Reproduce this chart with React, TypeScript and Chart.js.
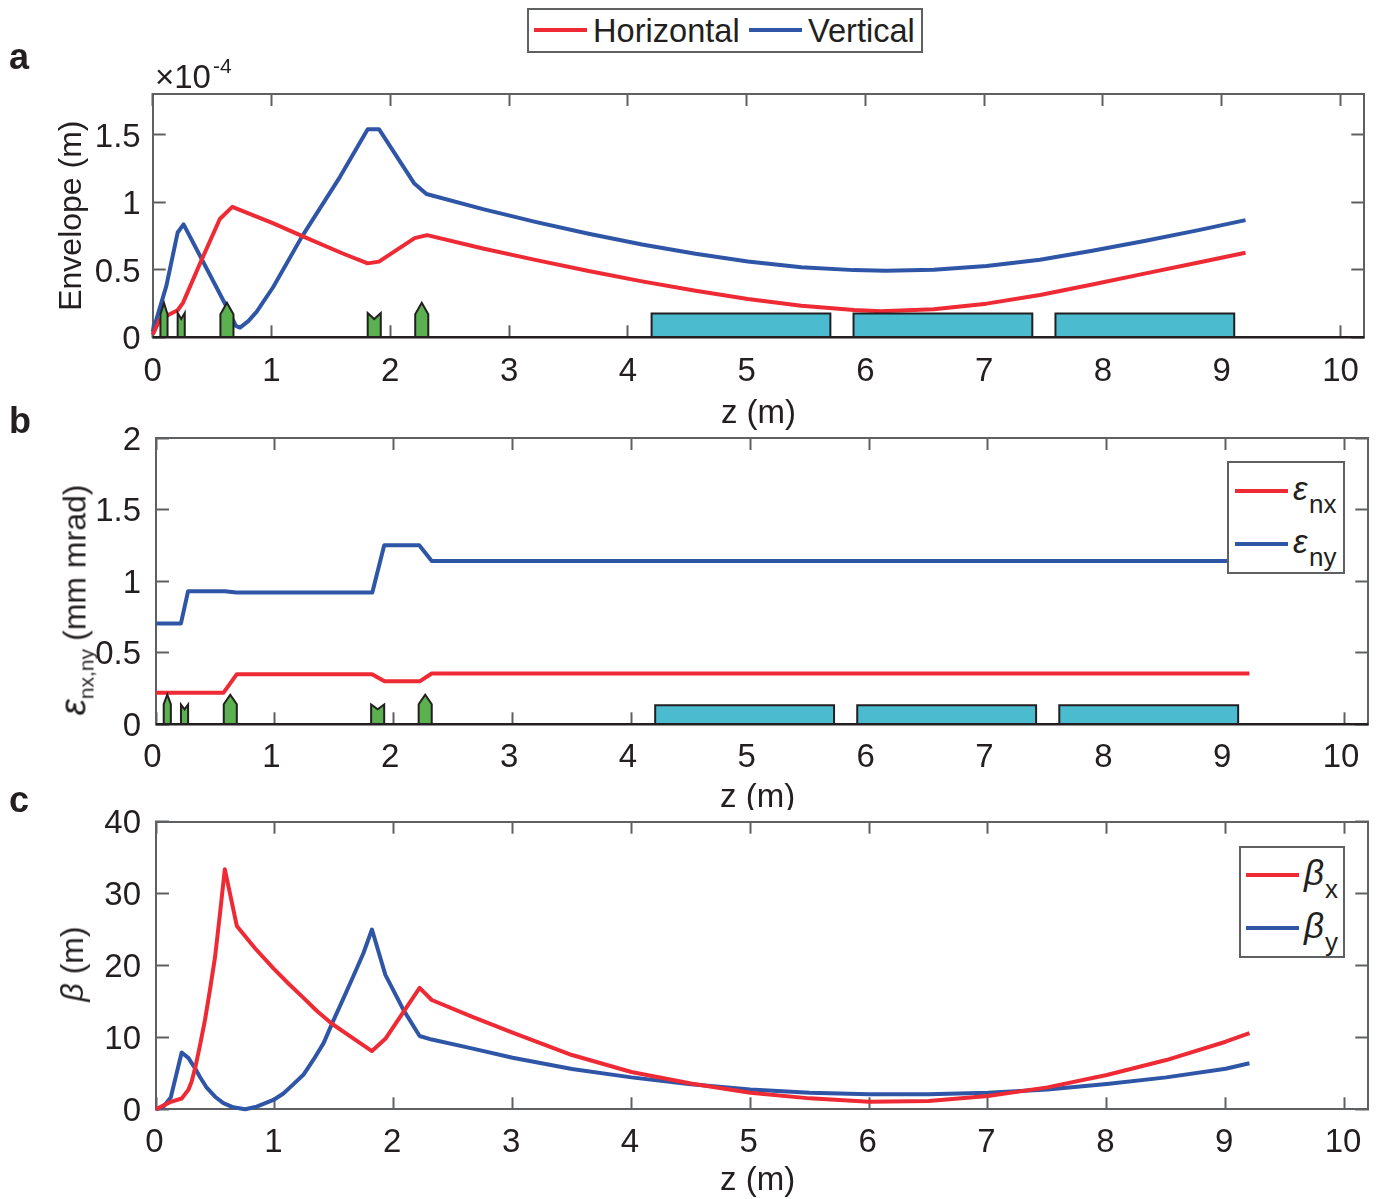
import React, { useEffect, useRef } from "react";
import { Chart, registerables } from "chart.js";

Chart.register(...registerables);

const RED = "#EE2A35";
const BLUE = "#2F56A6";
const INK = "#231F20";
const AXIS = "#5F6062";
const GREEN = "#5BB050";
const TEAL = "#4BBBD0";
const FONT = "'Liberation Sans', Arial, sans-serif";
const FS = 33;

type P = [number, number];

const envelopeX: P[] = [[0,0.02],[0.06,0.13],[0.13,0.165],[0.21,0.2],[0.255,0.255],[0.4,0.55],[0.565,0.875],[0.67,0.965],[1.016,0.843],[1.255,0.75],[1.6,0.62],[1.81,0.547],[1.905,0.56],[2.205,0.734],[2.31,0.756],[2.78,0.657],[3.23,0.571],[3.67,0.49],[4.12,0.414],[4.57,0.345],[5.01,0.283],[5.46,0.234],[5.905,0.202],[6.13,0.192],[6.575,0.207],[7.02,0.249],[7.47,0.313],[7.91,0.391],[8.36,0.473],[8.805,0.554],[9.2,0.625]];
const envelopeY: P[] = [[0,0.04],[0.115,0.38],[0.21,0.775],[0.26,0.835],[0.62,0.23],[0.7,0.085],[0.735,0.072],[0.805,0.12],[0.876,0.19],[1.016,0.374],[1.255,0.743],[1.577,1.187],[1.81,1.54],[1.905,1.54],[2.2,1.14],[2.305,1.06],[2.78,0.948],[3.23,0.852],[3.67,0.766],[4.12,0.687],[4.57,0.618],[5.01,0.561],[5.46,0.519],[5.905,0.497],[6.17,0.492],[6.575,0.5],[7.02,0.527],[7.47,0.574],[7.91,0.64],[8.36,0.714],[8.805,0.793],[9.2,0.867]];

const emittanceX: P[] = [[0,0.22],[0.25,0.22],[0.567,0.22],[0.68,0.35],[1.817,0.35],[1.923,0.3],[2.218,0.3],[2.32,0.355],[9.2,0.355]];
const emittanceY: P[] = [[0,0.705],[0.21,0.705],[0.27,0.93],[0.58,0.93],[0.675,0.92],[1.82,0.92],[1.92,1.25],[2.215,1.25],[2.32,1.14],[9.2,1.14]];

const betaX: P[] = [[0,0],[0.118,1],[0.216,1.5],[0.272,2.7],[0.3,3.85],[0.329,5.7],[0.37,8.9],[0.412,12.4],[0.454,16.6],[0.497,21.2],[0.539,27.3],[0.579,33.4],[0.68,25.5],[0.833,22.4],[0.988,19.6],[1.114,17.5],[1.241,15.5],[1.352,13.7],[1.48,11.9],[1.647,10],[1.817,8.1],[1.93,9.8],[2.218,16.9],[2.32,15.2],[2.657,12.88],[3,10.66],[3.5,7.55],[4,5.19],[4.5,3.6],[5,2.31],[5.5,1.52],[6,1.06],[6.5,1.15],[7,1.85],[7.5,3.05],[8,4.77],[8.5,6.85],[9,9.4],[9.2,10.6]];
const betaY: P[] = [[0,0],[0.062,0.35],[0.124,1.65],[0.216,7.9],[0.272,7.15],[0.329,5.7],[0.37,4.5],[0.427,3],[0.497,1.75],[0.567,0.85],[0.65,0.28],[0.75,0],[0.847,0.36],[0.988,1.3],[1.072,2.2],[1.157,3.5],[1.24,4.8],[1.325,6.9],[1.41,9.2],[1.494,12.4],[1.576,15.4],[1.66,18.5],[1.745,21.7],[1.817,25],[1.93,18.7],[2.083,13.8],[2.218,10.2],[2.32,9.7],[2.657,8.48],[3,7.18],[3.5,5.6],[4,4.44],[4.5,3.47],[5,2.77],[5.5,2.31],[6,2.08],[6.5,2.08],[7,2.31],[7.5,2.77],[8,3.52],[8.5,4.44],[9,5.65],[9.2,6.4]];

const focusQuads: P[] = [[0.065,0.125],[0.57,0.68],[2.21,2.32]];
const defocusQuads: P[] = [[0.21,0.27],[1.81,1.92]];
const dipoles: P[] = [[4.2,5.705],[5.9,7.405],[7.6,9.105]];

const xTicks = [0,1,2,3,4,5,6,7,8,9,10];
const panelAYTicks = [0,0.5,1,1.5];
const panelBYTicks = [0,0.5,1,1.5,2];
const panelCYTicks = [0,10,20,30,40];

type Heights = { focShoulder: number; focTip: number; defShoulder: number; defNotch: number; dipole: number };

const heightsA: Heights = { focShoulder: 0.17, focTip: 0.255, defShoulder: 0.18, defNotch: 0.135, dipole: 0.177 };
const heightsB: Heights = { focShoulder: 0.14, focTip: 0.207, defShoulder: 0.138, defNotch: 0.105, dipole: 0.133 };

function toXY(p: P[]) {
  return p.map(([x, y]) => ({ x, y }));
}

function beamline(h: Heights) {
  const shape = (pts: P[], color: string) => ({
    type: "scatter",
    data: toXY(pts),
    showLine: true,
    fill: "origin",
    backgroundColor: color,
    borderColor: INK,
    borderWidth: 2,
    borderJoinStyle: "miter",
    pointRadius: 0,
    tension: 0,
    order: 1,
    clip: false,
  });
  const out: any[] = [];
  focusQuads.forEach(([a, b]) =>
    out.push(shape([[a,0],[a,h.focShoulder],[(a+b)/2,h.focTip],[b,h.focShoulder],[b,0]], GREEN)));
  defocusQuads.forEach(([a, b]) =>
    out.push(shape([[a,0],[a,h.defShoulder],[(a+b)/2,h.defNotch],[b,h.defShoulder],[b,0]], GREEN)));
  dipoles.forEach(([a, b]) =>
    out.push(shape([[a,0],[a,h.dipole],[b,h.dipole],[b,0]], TEAL)));
  return out;
}

function curve(label: string, pts: P[], color: string) {
  return {
    type: "scatter",
    label,
    data: toXY(pts),
    showLine: true,
    borderColor: color,
    backgroundColor: color,
    borderWidth: 4,
    borderJoinStyle: "round",
    pointRadius: 0,
    tension: 0,
    fill: false,
    order: 2,
    clip: false,
  };
}

function baselineDs(xMax: number) {
  return {
    type: "scatter",
    data: toXY([[0,0],[xMax,0]]),
    showLine: true,
    borderColor: INK,
    borderWidth: 2.4,
    pointRadius: 0,
    fill: false,
    order: 0,
    clip: false,
  };
}

type PanelCfg = {
  canvasTop: number;
  canvasH: number;
  left: number;
  right: number;
  top: number;
  bottom: number;
  yMax: number;
  yStep: number;
  yTicks: number[];
  xLabelShift: number;
  xPad: number;
  yPad: number;
  yShift: number;
  xTitleY: number;
  xTitle: string;
  yTitle?: string;
  datasets: any[];
};

function noPad(s: any) {
  s.paddingTop = 0;
  s.paddingBottom = 0;
  s.paddingLeft = 0;
  s.paddingRight = 0;
}

function buildConfig(c: PanelCfg): any {
  const W = 1381;
  const tickFont = { family: FONT, size: FS };
  const commonGrid = (len: number) => ({
    drawOnChartArea: false,
    drawTicks: true,
    tickLength: -len,
    tickColor: AXIS,
    tickWidth: 2,
  });
  const border = { color: AXIS, width: 2 };
  return {
    type: "scatter",
    data: { datasets: c.datasets },
    options: {
      animation: false,
      responsive: false,
      maintainAspectRatio: false,
      layout: { padding: { left: 0, right: W - c.right, top: c.top - c.canvasTop, bottom: 0 } },
      plugins: { legend: { display: false }, tooltip: { enabled: false }, title: { display: false } },
      scales: {
        x: {
          type: "linear",
          position: "bottom",
          min: 0,
          max: 10.2,
          border,
          grid: commonGrid(12),
          afterFit: (s: any) => { s.height = c.canvasTop + c.canvasH - c.bottom; noPad(s); },
          afterBuildTicks: (s: any) => { s.ticks = xTicks.map((value) => ({ value })); },
          ticks: {
            stepSize: 1,
            includeBounds: false,
            autoSkip: false,
            maxRotation: 0,
            minRotation: 0,
            color: INK,
            font: tickFont,
            padding: c.xPad,
            labelOffset: c.xLabelShift,
            callback: (v: any) => String(v),
          },
          title: {
            display: true,
            text: c.xTitle,
            color: INK,
            font: { family: FONT, size: FS },
            padding: { top: 0, bottom: c.canvasTop + c.canvasH - c.xTitleY - FS * 0.6 },
          },
        },
        x2: {
          type: "linear",
          position: "top",
          min: 0,
          max: 10.2,
          border,
          grid: commonGrid(12),
          afterFit: (s: any) => { s.height = 0; noPad(s); },
          afterBuildTicks: (s: any) => { s.ticks = xTicks.map((value) => ({ value })); },
          ticks: { display: false, autoSkip: false },
        },
        y: {
          type: "linear",
          position: "left",
          min: 0,
          max: c.yMax,
          border,
          grid: commonGrid(13),
          afterFit: (s: any) => { s.width = c.left; noPad(s); },
          afterBuildTicks: (s: any) => { s.ticks = c.yTicks.map((value) => ({ value })); },
          ticks: {
            stepSize: c.yStep,
            includeBounds: false,
            autoSkip: false,
            color: INK,
            font: tickFont,
            padding: c.yPad,
            labelOffset: c.yShift,
            callback: (v: any) => String(v),
          },
          title: c.yTitle
            ? {
                display: true,
                text: c.yTitle,
                color: INK,
                font: { family: FONT, size: 32 },
                padding: { top: 53, bottom: 0 },
              }
            : { display: false },
        },
        y2: {
          type: "linear",
          position: "right",
          min: 0,
          max: c.yMax,
          border,
          grid: commonGrid(13),
          afterFit: (s: any) => { s.width = 0; noPad(s); },
          afterBuildTicks: (s: any) => { s.ticks = c.yTicks.map((value) => ({ value })); },
          ticks: { display: false, autoSkip: false },
        },
      },
    },
  };
}

const panels: PanelCfg[] = [
  {
    canvasTop: 60, canvasH: 380, left: 152.7, right: 1364.3, top: 94, bottom: 337.3,
    yMax: 1.8, yStep: 0.5, yTicks: panelAYTicks, xLabelShift: 0, xPad: 26.5, yPad: 25, yShift: 3, xTitleY: 413.5,
    xTitle: "z (m)", yTitle: "Envelope (m)",
    datasets: [curve("Horizontal", envelopeX, RED), curve("Vertical", envelopeY, BLUE), ...beamline(heightsA), baselineDs(10.2)],
  },
  {
    canvasTop: 415, canvasH: 395, left: 156, right: 1368.3, top: 438, bottom: 724.3,
    yMax: 2, yStep: 0.5, yTicks: panelBYTicks, xLabelShift: -3.5, xPad: 25.5, yPad: 28, yShift: 2.5, xTitleY: 797.5,
    xTitle: "z (m) ",
    datasets: [curve("εnx", emittanceX, RED), curve("εny", emittanceY, BLUE), ...beamline(heightsB), baselineDs(10.2)],
  },
  {
    canvasTop: 795, canvasH: 404, left: 156, right: 1368.3, top: 821.7, bottom: 1109.3,
    yMax: 40, yStep: 10, yTicks: panelCYTicks, xLabelShift: -1.5, xPad: 25.5, yPad: 28, yShift: 2.5, xTitleY: 1181,
    xTitle: "z (m) ",
    datasets: [curve("βx", betaX, RED), curve("βy", betaY, BLUE)],
  },
];

function Panel({ cfg }: { cfg: PanelCfg }) {
  const ref = useRef<HTMLCanvasElement | null>(null);
  useEffect(() => {
    const chart = new Chart(ref.current as HTMLCanvasElement, buildConfig(cfg));
    return () => chart.destroy();
  }, [cfg]);
  return (
    <canvas
      ref={ref}
      width={1381}
      height={cfg.canvasH}
      style={{ position: "absolute", left: 0, top: cfg.canvasTop, width: 1381, height: cfg.canvasH, display: "block" }}
    />
  );
}

const textBase: React.CSSProperties = {
  position: "absolute",
  fontFamily: FONT,
  color: INK,
  whiteSpace: "nowrap",
  lineHeight: 1,
};

function Label({ x, y, size = FS, bold, italic, rotate, children }: any) {
  return (
    <span
      style={{
        ...textBase,
        left: x,
        top: y,
        fontSize: size,
        fontWeight: bold ? 700 : 400,
        fontStyle: italic ? "italic" : "normal",
        transform: rotate ? "translate(-50%,-50%) rotate(-90deg)" : undefined,
      }}
    >
      {children}
    </span>
  );
}

function Swatch({ x, y, color }: { x: number; y: number; color: string }) {
  return <div style={{ position: "absolute", left: x, top: y - 2, width: 53, height: 4, background: color }} />;
}

function Box({ l, t, r, b }: { l: number; t: number; r: number; b: number }) {
  return (
    <div
      style={{
        position: "absolute",
        left: l,
        top: t,
        width: r - l,
        height: b - t,
        boxSizing: "border-box",
        border: `2px solid ${AXIS}`,
        background: "#fff",
      }}
    />
  );
}

export default function App() {
  useEffect(() => {
    document.body.style.margin = "0";
    document.body.style.background = "#fff";
  }, []);
  return (
    <div style={{ position: "absolute", left: 0, top: 0, width: 1381, height: 1199, overflow: "hidden", background: "#fff" }}>
      {panels.map((p, i) => (
        <Panel key={i} cfg={p} />
      ))}

      <Label x={9} y={39} size={36} bold>a</Label>
      <Label x={9} y={403} size={36} bold>b</Label>
      <Label x={9} y={782} size={36} bold>c</Label>

      <Label x={155} y={60} size={33}>×10</Label>
      <Label x={213} y={55} size={21}>-4</Label>

      <Box l={527} t={8} r={923} b={53} />
      <Swatch x={534} y={30} color={RED} />
      <Label x={593} y={15} size={32.6}>Horizontal</Label>
      <Swatch x={749} y={30} color={BLUE} />
      <Label x={808} y={15} size={32.6}>Vertical</Label>

      <Box l={1227} t={461} r={1344.5} b={573.5} />
      <Swatch x={1235} y={491} color={RED} />
      <Label x={1293} y={472} size={33} italic>ε</Label>
      <Label x={1309} y={491} size={26}>nx</Label>
      <Swatch x={1235} y={544} color={BLUE} />
      <Label x={1293} y={525} size={33} italic>ε</Label>
      <Label x={1309} y={544} size={26}>ny</Label>

      <Box l={1239} t={846} r={1344.5} b={958} />
      <Swatch x={1246} y={875} color={RED} />
      <Label x={1304} y={855} size={35} italic>β</Label>
      <Label x={1325} y={876} size={26}>x</Label>
      <Swatch x={1246} y={928} color={BLUE} />
      <Label x={1304} y={908} size={35} italic>β</Label>
      <Label x={1325} y={929} size={26}>y</Label>

      <Label x={73} y={600} size={32} rotate>
        <span style={{ fontStyle: "italic", fontSize: 37 }}>ε</span>
        <span style={{ fontSize: 21, position: "relative", top: 8, marginRight: 8 }}>nx,ny</span>
        <span>(mm mrad)</span>
      </Label>
      <Label x={72} y={964} size={32} rotate>
        <span style={{ fontStyle: "italic" }}>β</span> (m)
      </Label>
    </div>
  );
}
